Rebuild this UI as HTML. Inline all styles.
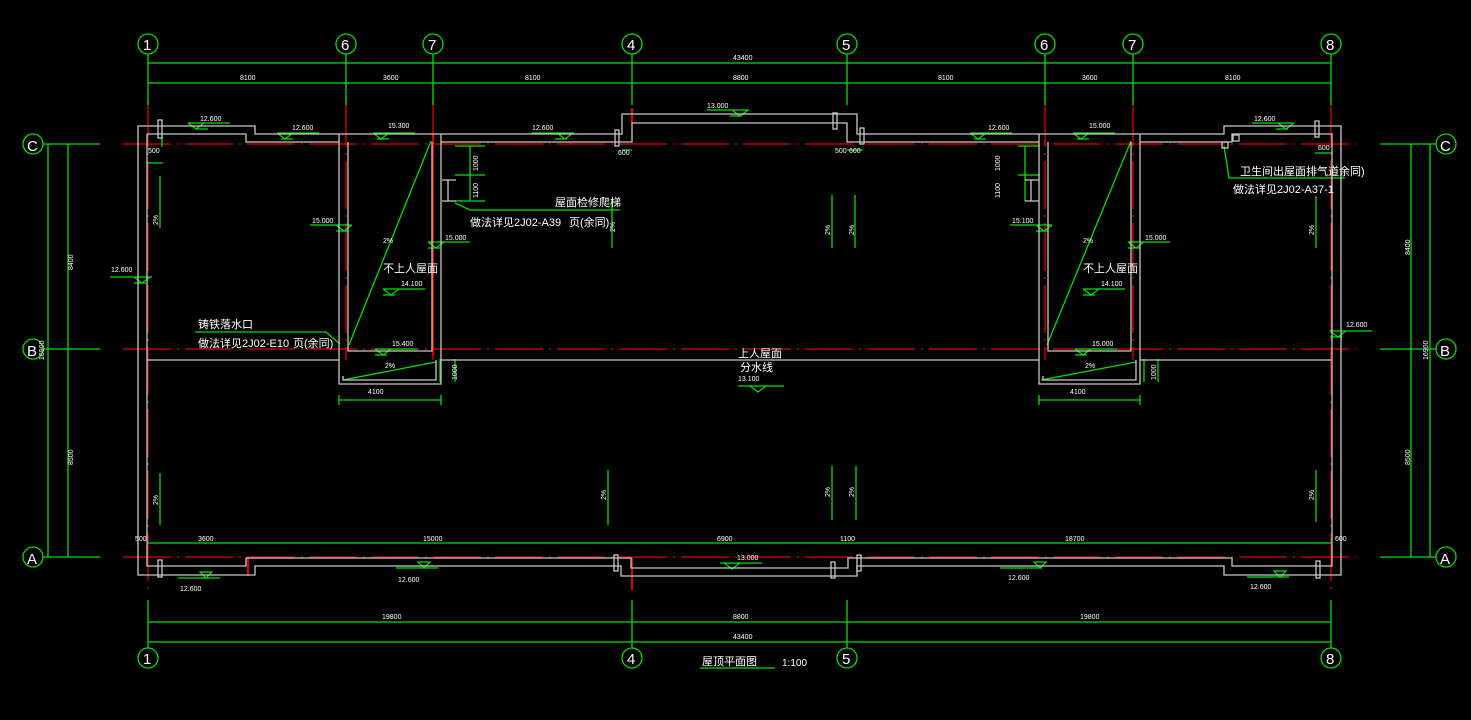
<!DOCTYPE html>
<html><head><meta charset="utf-8"><style>
html,body{margin:0;padding:0;background:#000;width:1471px;height:720px;overflow:hidden}
svg{display:block}
text{font-family:"Liberation Sans","Noto Sans CJK SC",sans-serif;fill:#fff}
</style></head><body>
<svg width="1471" height="720" viewBox="0 0 1471 720" xmlns="http://www.w3.org/2000/svg">
<g stroke="#e00000" stroke-width="1.3" stroke-dasharray="48,6,2,6" fill="none">
<line x1="123" y1="144" x2="1356" y2="144"/>
<line x1="123" y1="349" x2="1356" y2="349"/>
<line x1="123" y1="557" x2="1356" y2="557"/>
<line x1="148" y1="99" x2="148" y2="590"/>
<line x1="346" y1="99" x2="346" y2="360"/>
<line x1="433" y1="99" x2="433" y2="360"/>
<line x1="1045" y1="99" x2="1045" y2="360"/>
<line x1="1133" y1="99" x2="1133" y2="360"/>
<line x1="1331" y1="99" x2="1331" y2="590"/>
</g>
<g stroke="#e00000" stroke-width="2">
<line x1="433" y1="134" x2="433" y2="355"/>
<line x1="632" y1="108" x2="632" y2="124"/>
<line x1="632" y1="558" x2="632" y2="590"/>
<line x1="248" y1="558" x2="248" y2="576"/>
</g>
<g stroke="#00e000" stroke-width="1.3" fill="none">
<line x1="148" y1="63" x2="1331" y2="63"/>
<line x1="148" y1="83" x2="1331" y2="83"/>
<line x1="148" y1="622" x2="1331" y2="622"/>
<line x1="148" y1="642" x2="1331" y2="642"/>
<line x1="148" y1="543" x2="1331" y2="543"/>
<path d="M148 54V105M346 54V105M433 54V105M632 54V105M847 54V105M1045 54V105M1133 54V105M1331 54V105"/>
<path d="M148 600V648M632 600V648M847 600V648M1331 600V648"/>
<path d="M43 144H100M43 349H100M43 557H100M1380 144H1436M1380 349H1436M1380 557H1436"/>
<line x1="48" y1="144" x2="48" y2="557"/><line x1="68" y1="144" x2="68" y2="557"/>
<line x1="1411" y1="144" x2="1411" y2="557"/><line x1="1430" y1="144" x2="1430" y2="557"/>
<circle cx="148" cy="44" r="10"/><circle cx="346" cy="44" r="10"/><circle cx="433" cy="44" r="10"/><circle cx="632" cy="44" r="10"/><circle cx="847" cy="44" r="10"/><circle cx="1045" cy="44" r="10"/><circle cx="1133" cy="44" r="10"/><circle cx="1331" cy="44" r="10"/>
<circle cx="148" cy="658" r="10"/><circle cx="632" cy="658" r="10"/><circle cx="847" cy="658" r="10"/><circle cx="1331" cy="658" r="10"/>
<circle cx="33" cy="144" r="10"/><circle cx="33" cy="349" r="10"/><circle cx="33" cy="557" r="10"/>
<circle cx="1446" cy="144" r="10"/><circle cx="1446" cy="349" r="10"/><circle cx="1446" cy="557" r="10"/>
<path d="M160 176V228M160 473V525M608 470V525M832 195V248M855 195V248M832 466V520M856 466V520M1316 196V248M1316 470V522M612 200V248"/>
<path d="M349 345L431 141M1047 345L1131 141M343 380L436 362M1041 380L1136 362"/>
<path d="M195 332H326L340 344M455 203L470 210H620M1224 146L1229 178H1345"/>
<path d="M440 359V382M455 359V382M1144 359V382M1158 359V382M339 400H441M1039 400H1140M339 395V405M441 395V405M1039 395V405M1140 395V405"/>
<path d="M455 146H485M470 146V201M455 175H485M455 201H485M1018 146H1040M1025 146V201M1018 175H1040"/>
<path d="M147 163H163M162 136V147M622 150H632M847 150H863M1315 153H1332"/>
<path d="M738 386H784"/>
<path d="M700 668H775"/>
</g>
<g stroke="#00e000" stroke-width="1.2" fill="none">
<path d="M188 123h42M188 123l8 6 8-6M196 129h12"/><path d="M277 133h42M277 133l8 6 8-6M281 139h12"/>
<path d="M373 133h42M373 133l8 6 8-6M377 139h12"/><path d="M532 133h42M557 133l8 6 8-6M555 139h12"/>
<path d="M707 110h42M732 110l8 6 8-6M730 116h12"/><path d="M970 133h42M970 133l8 6 8-6M974 139h12"/>
<path d="M1073 133h42M1073 133l8 6 8-6M1077 139h12"/><path d="M1252 123h42M1278 123l8 6 8-6M1276 129h12"/>
<path d="M310 225h42M336 225l8 6 8-6M336 231h12"/><path d="M1010 225h42M1036 225l8 6 8-6M1036 231h12"/>
<path d="M428 242h42M428 242l8 6 8-6M428 248h12"/><path d="M1128 242h42M1128 242l8 6 8-6M1128 248h12"/>
<path d="M110 277h42M134 277l8 6 8-6M134 283h12"/><path d="M1330 331h42M1330 331l8 6 8-6M1330 337h12"/>
<path d="M383 289h42M383 289l8 6 8-6M383 295h12"/><path d="M1083 289h42M1083 289l8 6 8-6M1083 295h12"/>
<path d="M375 349h42M375 349l8 6 8-6M375 355h12"/><path d="M1075 349h42M1075 349l8 6 8-6M1075 355h12"/>
<path d="M750 386l8 6 8-6"/>
<path d="M178 578h42M206 578l-6 -6h12z"/><path d="M396 568h42M424 568l-6 -6h12z"/>
<path d="M720 563h42M724 563l8 6 8-6"/><path d="M1000 568h42M1040 568l-6 -6h12z"/>
<path d="M1247 577h42M1280 577l-6 -6h12z"/>
</g>
<g stroke="#c8c8c8" stroke-width="1.3" fill="none">
<path d="M138 126H255V134H622V114H857V134H1224V126H1341V575H1224V566H857V576H621V566H255V575H138Z"/>
<path d="M147 134H246V142H339M441 142H632V123H847V142H1039M1140 142H1232V134H1332V566H1232V558H848V568H631V558H246V566H147V134"/>
<path d="M339 134V384H441V134M348 142V351H432V142M339 360H147M441 360H1039M1140 360H1331"/>
<path d="M1039 134V384H1140V134M1048 142V351H1131V142"/>
<path d="M343 376V380H436V360"/><path d="M1043 376V380H1136V360"/>
<rect x="158" y="120" width="4" height="18"/><rect x="615" y="130" width="4" height="16"/><rect x="833" y="113" width="4" height="16"/><rect x="860" y="128" width="4" height="16"/><rect x="1315" y="121" width="4" height="16"/>
<rect x="158" y="560" width="4" height="17"/><rect x="614" y="555" width="4" height="16"/><rect x="831" y="562" width="4" height="16"/><rect x="857" y="555" width="4" height="16"/><rect x="1316" y="561" width="4" height="17"/>
<path d="M442 180h14M442 201h14M448 180v21"/><path d="M1025 180h14M1025 201h14M1031 180v21"/>
<rect x="1222" y="142" width="6" height="6"/><rect x="1233" y="135" width="6" height="6"/>
</g>
<g font-size="7">
<text x="733" y="60">43400</text><text x="240" y="80">8100</text><text x="383" y="80">3600</text><text x="525" y="80">8100</text><text x="733" y="80">8800</text><text x="938" y="80">8100</text><text x="1082" y="80">3600</text><text x="1225" y="80">8100</text>
<text x="382" y="619">19800</text><text x="733" y="619">8800</text><text x="1080" y="619">19800</text><text x="733" y="639">43400</text>
<text x="135" y="541">500</text><text x="198" y="541">3600</text><text x="423" y="541">15000</text><text x="717" y="541">6900</text><text x="840" y="541">1100</text><text x="1065" y="541">18700</text><text x="1335" y="541">600</text>
<text x="200" y="121">12.600</text><text x="292" y="130">12.600</text><text x="388" y="128">15.300</text><text x="532" y="130">12.600</text><text x="707" y="108">13.000</text><text x="988" y="130">12.600</text><text x="1089" y="128">15.000</text><text x="1254" y="121">12.600</text>
<text x="312" y="223">15.000</text><text x="1012" y="223">15.100</text><text x="445" y="240">15.000</text><text x="1145" y="240">15.000</text><text x="111" y="272">12.600</text><text x="1346" y="327">12.600</text>
<text x="401" y="286">14.100</text><text x="1101" y="286">14.100</text><text x="392" y="346">15.400</text><text x="1092" y="346">15.000</text><text x="738" y="381">13.100</text>
<text x="180" y="591">12.600</text><text x="398" y="582">12.600</text><text x="737" y="560">13.000</text><text x="1008" y="580">12.600</text><text x="1250" y="589">12.600</text>
<text x="148" y="153">500</text><text x="618" y="155">600</text><text x="835" y="153">500</text><text x="849" y="153">600</text><text x="1318" y="150">600</text>
<text x="383" y="243">2%</text><text x="1083" y="243">2%</text><text x="385" y="368">2%</text><text x="1085" y="368">2%</text>
<text x="368" y="394">4100</text><text x="1070" y="394">4100</text>
</g>
<g font-size="7">
<text transform="translate(73,270) rotate(-90)">8400</text><text transform="translate(73,465) rotate(-90)">8500</text><text transform="translate(44,360) rotate(-90)">16900</text>
<text transform="translate(1410,255) rotate(-90)">8400</text><text transform="translate(1410,465) rotate(-90)">8500</text><text transform="translate(1428,360) rotate(-90)">16900</text>
<text transform="translate(158,225) rotate(-90)">2%</text><text transform="translate(158,505) rotate(-90)">2%</text><text transform="translate(1314,235) rotate(-90)">2%</text><text transform="translate(1314,500) rotate(-90)">2%</text>
<text transform="translate(606,500) rotate(-90)">2%</text><text transform="translate(830,235) rotate(-90)">2%</text><text transform="translate(854,235) rotate(-90)">2%</text><text transform="translate(830,497) rotate(-90)">2%</text><text transform="translate(854,497) rotate(-90)">2%</text><text transform="translate(615,232) rotate(-90)">2%</text>
<text transform="translate(478,171) rotate(-90)">1000</text><text transform="translate(478,198) rotate(-90)">1100</text><text transform="translate(1000,171) rotate(-90)">1000</text><text transform="translate(1000,198) rotate(-90)">1100</text>
<text transform="translate(457,380) rotate(-90)">1000</text><text transform="translate(1156,380) rotate(-90)">1000</text>
</g>
<g style="font-size:15px"><text x="27" y="151">C</text><text x="27" y="356">B</text><text x="27" y="564">A</text>
<text x="1440" y="151">C</text><text x="1440" y="356">B</text><text x="1440" y="564">A</text></g>
<g font-size="15"><text x="143" y="50">1</text><text x="341" y="50">6</text><text x="428" y="50">7</text><text x="627" y="50">4</text><text x="842" y="50">5</text><text x="1040" y="50">6</text><text x="1128" y="50">7</text><text x="1326" y="50">8</text>
<text x="143" y="664">1</text><text x="627" y="664">4</text><text x="842" y="664">5</text><text x="1326" y="664">8</text></g>
<g font-size="11">
<text x="198" y="328">铸铁落水口</text><text x="198" y="347">做法详见2J02-E10</text><text x="293" y="347">页(余同)</text>
<text x="555" y="206">屋面检修爬梯</text><text x="470" y="226">做法详见2J02-A39</text><text x="569" y="226">页(余同)</text>
<text x="383" y="272">不上人屋面</text><text x="1083" y="272">不上人屋面</text>
<text x="1240" y="175">卫生间出屋面排气道余同)</text><text x="1233" y="193">做法详见2J02-A37-1</text>
<text x="738" y="357">上人屋面</text><text x="740" y="371">分水线</text>
<text x="702" y="665">屋顶平面图</text><text x="782" y="666" font-size="10">1:100</text>
</g>
</svg>
</body></html>
